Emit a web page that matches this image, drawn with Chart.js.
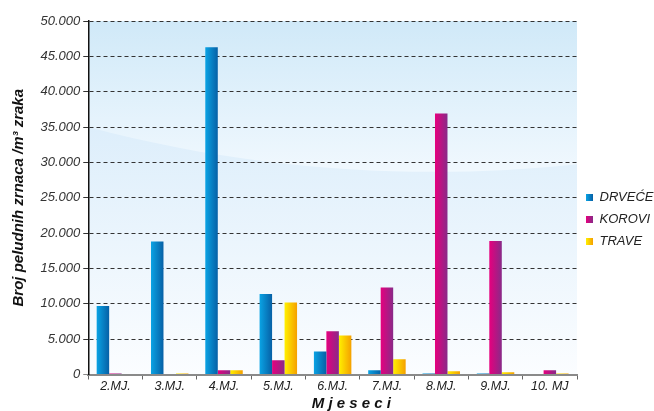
<!DOCTYPE html>
<html>
<head>
<meta charset="utf-8">
<script src="https://cdn.jsdelivr.net/npm/chart.js@4"></script>
<style>
html,body{margin:0;padding:0;background:#fff;}
#wrap{width:654px;height:411px;position:relative;}
</style>
</head>
<body>
<div id="wrap"><canvas id="c" width="654" height="411"></canvas></div>
<script>
const categories = ['2.MJ.','3.MJ.','4.MJ.','5.MJ.','6.MJ.','7.MJ.','8.MJ.','9.MJ.','10. MJ'];
const drvece = [9700, 18800, 46300, 11400, 3250, 600, 150, 150, 80];
const korovi = [150, 80, 600, 2000, 6100, 12300, 36900, 18900, 600];
const trave  = [0, 150, 600, 10200, 5500, 2150, 470, 320, 150];
const seriesNames = ['DRVEĆE','KOROVI','TRAVE'];
const yTicks = [0,5000,10000,15000,20000,25000,30000,35000,40000,45000,50000];

const CAT = 0.69;
const gradColors = [['#0aa3e4','#0660a6'],['#e6007e','#882a88'],['#fff000','#f5a000']];

function barGrad(ds){
  const [c0,c1] = gradColors[ds];
  return function(ctx){
    const chart = ctx.chart, xs = chart.scales.x;
    if(!xs || !chart.chartArea || ctx.type !== 'data') return c0;
    const w = (xs.right - xs.left)/categories.length;
    const center = xs.getPixelForValue(ctx.dataIndex);
    const bw = w*CAT/3;
    const left = center - w*CAT/2 + ds*bw;
    const g = chart.ctx.createLinearGradient(left,0,left+bw,0);
    g.addColorStop(0,c0); g.addColorStop(1,c1);
    return g;
  };
}

function legendImg(ds){
  const c = document.createElement('canvas'); c.width = 7; c.height = 7;
  const x = c.getContext('2d');
  const g = x.createLinearGradient(0,0,7,0);
  g.addColorStop(0,gradColors[ds][0]); g.addColorStop(1,gradColors[ds][1]);
  x.fillStyle = g; x.fillRect(0,0,7,7);
  return c;
}
const legendImgs = [legendImg(0),legendImg(1),legendImg(2)];

const bgPlugin = {
  id:'bg',
  beforeDraw(chart){
    const {ctx, chartArea:a} = chart;
    const w = a.right-a.left, h = a.bottom-a.top;
    ctx.save();
    let g = ctx.createLinearGradient(0,a.top+0.3*h,0,a.bottom);
    g.addColorStop(0,'#ddeefb'); g.addColorStop(1,'#fbfdff');
    ctx.fillStyle = g; ctx.fillRect(a.left,a.top,w,h);
    ctx.beginPath();
    ctx.moveTo(a.left,a.top); ctx.lineTo(a.right,a.top); ctx.lineTo(a.right,a.top+0.405*h);
    ctx.bezierCurveTo(a.left+0.7*w,a.top+0.45*h,a.left+0.35*w,a.top+0.43*h,a.left,a.top+0.30*h);
    ctx.closePath();
    g = ctx.createLinearGradient(0,a.top,0,a.top+0.42*h);
    g.addColorStop(0,'#d0e9f8'); g.addColorStop(1,'#f0f8fe');
    ctx.fillStyle = g; ctx.fill();
    ctx.restore();
  },
  afterLayout(chart){
    const lg = chart.legend;
    if(lg){ lg.top += 3; lg.bottom += 3; }
  }
};

new Chart(document.getElementById('c'), {
  type:'bar',
  data:{
    labels: categories,
    datasets:[
      {label:seriesNames[0], data:drvece, backgroundColor:barGrad(0)},
      {label:seriesNames[1], data:korovi, backgroundColor:barGrad(1)},
      {label:seriesNames[2], data:trave, backgroundColor:barGrad(2)}
    ]
  },
  options:{
    responsive:false,
    animation:false,
    devicePixelRatio:1,
    layout:{padding:{top:21,left:11,right:0,bottom:0}},
    datasets:{bar:{categoryPercentage:CAT, barPercentage:1.0, borderWidth:0}},
    plugins:{
      tooltip:{enabled:false},
      legend:{
        position:'right',
        maxWidth:77,
        labels:{
          usePointStyle:true, boxWidth:7, boxHeight:7, padding:9,
          color:'#222',
          font:{family:'Liberation Sans, Arial, sans-serif', size:13, style:'italic'},
          generateLabels:(chart)=>chart.data.datasets.map((d,i)=>({
            text:d.label, pointStyle:legendImgs[i], fillStyle:gradColors[i][0],
            strokeStyle:'rgba(0,0,0,0)', lineWidth:0, hidden:false, datasetIndex:i, fontColor:'#222'
          }))
        }
      }
    },
    scales:{
      x:{
        offset:true,
        grid:{display:true, drawOnChartArea:false, drawTicks:true, tickLength:5, color:'#666', offset:true},
        border:{display:true, color:'#8a8a8a', width:2},
        ticks:{color:'#222', padding:1, font:{family:'Liberation Sans, Arial, sans-serif', size:12.5, style:'italic', lineHeight:1.0}},
        title:{display:true, text:'\u00A0\u00A0\u00A0\u00A0\u00A0\u00A0\u00A0\u00A0\u00A0M j e s e c i', color:'#111', padding:{top:2,bottom:0},
          font:{family:'Liberation Sans, Arial, sans-serif', size:15, style:'italic', weight:'bold', lineHeight:1.0}}
      },
      y:{
        min:0, max:50000,
        afterBuildTicks:(s)=>{ s.ticks = yTicks.map(v=>({value:v})); },
        grid:{display:true, drawTicks:true, tickLength:5,
          color:(c)=> (c.tick && c.tick.value===0) ? '#8a8a8a' : '#333', lineWidth:1},
        border:{display:true, color:'#111', width:1.5, dash:[4,3]},
        ticks:{color:'#333', padding:3,
          font:{family:'Liberation Sans, Arial, sans-serif', size:13, style:'italic'},
          callback:(v)=> v===0 ? '0' : String(v).replace(/\B(?=(\d{3})+(?!\d))/g,'.')},
        title:{display:true, text:'Broj peludnih zrnaca /m³ zraka', color:'#111', padding:{top:0,bottom:10},
          font:{family:'Liberation Sans, Arial, sans-serif', size:15, style:'italic', weight:'bold', lineHeight:1.1}}
      }
    }
  },
  plugins:[bgPlugin]
});
</script>
</body>
</html>
